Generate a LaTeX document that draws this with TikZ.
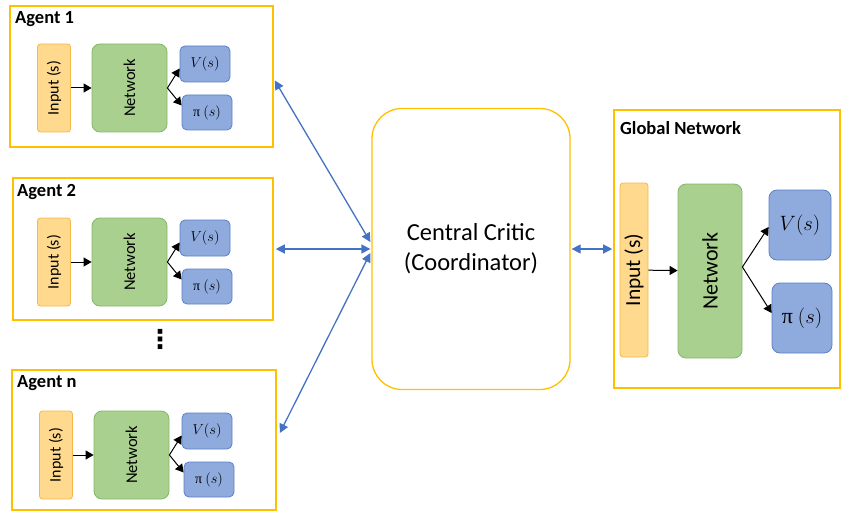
\documentclass[tikz,border=0pt]{standalone}
\usepackage{fontspec}
\setmainfont{Carlito}
\newfontfamily\grk{Liberation Serif}
\newfontfamily\djv{DejaVu Sans}
\usetikzlibrary{arrows.meta,calc}
\definecolor{ybox}{HTML}{FFC000}
\definecolor{infill}{HTML}{FFD98E}
\definecolor{indraw}{HTML}{F2B84B}
\definecolor{netfill}{HTML}{A9D08E}
\definecolor{netdraw}{HTML}{82B86A}
\definecolor{outfill}{HTML}{8FAADC}
\definecolor{outdraw}{HTML}{5B7FC7}
\definecolor{lnk}{HTML}{4472C4}
\tikzset{
  agentbox/.style={draw=ybox,line width=1.6pt,inner sep=0pt},
  inbox/.style={draw=indraw,fill=infill,rounded corners=3pt,line width=0.8pt,inner sep=0pt},
  netbox/.style={draw=netdraw,fill=netfill,rounded corners=8pt,line width=0.8pt,inner sep=0pt},
  outbox/.style={draw=outdraw,fill=outfill,rounded corners=5pt,line width=0.8pt,inner sep=0pt},
  title/.style={font=\fontsize{18.5}{20}\selectfont\bfseries,anchor=west,inner sep=0pt},
  arr/.style={-{Triangle[length=8pt,width=9pt]},line width=1pt,black},
  link/.style={{Triangle[length=9pt,width=9pt]}-{Triangle[length=9pt,width=9pt]},line width=1.3pt,lnk},
}
\begin{document}
\begin{tikzpicture}[x=1pt,y=-1pt]
\useasboundingbox (0,0) rectangle (850,513);
% agent boxes
\node[agentbox,minimum width=263pt,minimum height=141pt] (a1box) at (141.5,76.5) {};
\node[title] at (15,19) {Agent 1};
\node[agentbox,minimum width=260pt,minimum height=142pt] (a2box) at (143,249) {};
\node[title] at (17,192) {Agent 2};
\node[agentbox,minimum width=264pt,minimum height=140pt] (anbox) at (144,440) {};
\node[title] at (17,383) {Agent n};
% agent internals
\foreach \k/\dx/\dy in {1/0/0, 2/0/174, n/2/367}{
  \begin{scope}[shift={(\dx,\dy)}]
    \node[inbox,minimum width=33pt,minimum height=88pt] (in\k) at (54,88) {\rotatebox{90}{\fontsize{16}{18}\selectfont Input (s)}};
    \node[netbox,minimum width=75pt,minimum height=88pt] (net\k) at (129.5,88) {\rotatebox{90}{\fontsize{16.5}{18}\selectfont Network}};
    \node[outbox,minimum width=50pt,minimum height=36pt] (v\k) at (205,64) {\fontsize{14}{16}\selectfont $V(s)$};
    \node[outbox,minimum width=50pt,minimum height=35pt] (p\k) at (207,112.5) {\fontsize{14}{16}\selectfont {\grk π} $(s)$};
  \end{scope}
  \draw[arr] (in\k) -- (net\k);
  \draw[arr] (net\k.east) -- ([yshift=-4.5pt]v\k.west);
  \draw[arr] (net\k.east) -- ([yshift=7pt]p\k.west);
}
\node[font=\djv\fontsize{26}{26}\selectfont\bfseries,inner sep=0pt] (dots) at (160,339) {⋮};
% central critic
\node[draw=ybox,line width=1.3pt,rounded corners=30pt,minimum width=198pt,minimum height=281pt,align=center,font=\fontsize{24.5}{30}\selectfont] (cc) at (471,249) {Central Critic\\(Coordinator)};
% global network
\node[agentbox,minimum width=226pt,minimum height=278pt] (gbox) at (727,249) {};
\node[title] at (620,128) {Global Network};
\node[inbox,minimum width=28pt,minimum height=174pt] (ing) at (634,270) {\rotatebox{90}{\fontsize{21.5}{23}\selectfont Input (s)}};
\node[netbox,minimum width=64pt,minimum height=174pt] (netg) at (710,271) {\rotatebox{90}{\fontsize{22}{24}\selectfont Network}};
\node[outbox,rounded corners=8pt,minimum width=62pt,minimum height=70pt] (vg) at (800,225) {\fontsize{22}{24}\selectfont $V(s)$};
\node[outbox,rounded corners=8pt,minimum width=60pt,minimum height=70pt] (pg) at (802,318) {\fontsize{22}{24}\selectfont {\grk π} $(s)$};
\draw[arr] (ing) -- (netg);
\draw[arr] ([yshift=4pt]netg.east) -- ([yshift=-2pt]vg.west);
\draw[arr] ([yshift=4pt]netg.east) -- ([yshift=5pt]pg.west);
% links
\draw[link] ([xshift=1pt,yshift=-4pt]a1box.east) -- ([xshift=-1pt,yshift=7pt]cc.west);
\draw[link] ([xshift=2pt]a2box.east) -- ([xshift=-1pt]cc.west);
\draw[link] ([xshift=3pt,yshift=7pt]anbox.east) -- ([xshift=-1pt,yshift=-4pt]cc.west);
\draw[link] ([xshift=1pt]cc.east) -- ([xshift=-1pt]gbox.west);
\end{tikzpicture}
\end{document}
